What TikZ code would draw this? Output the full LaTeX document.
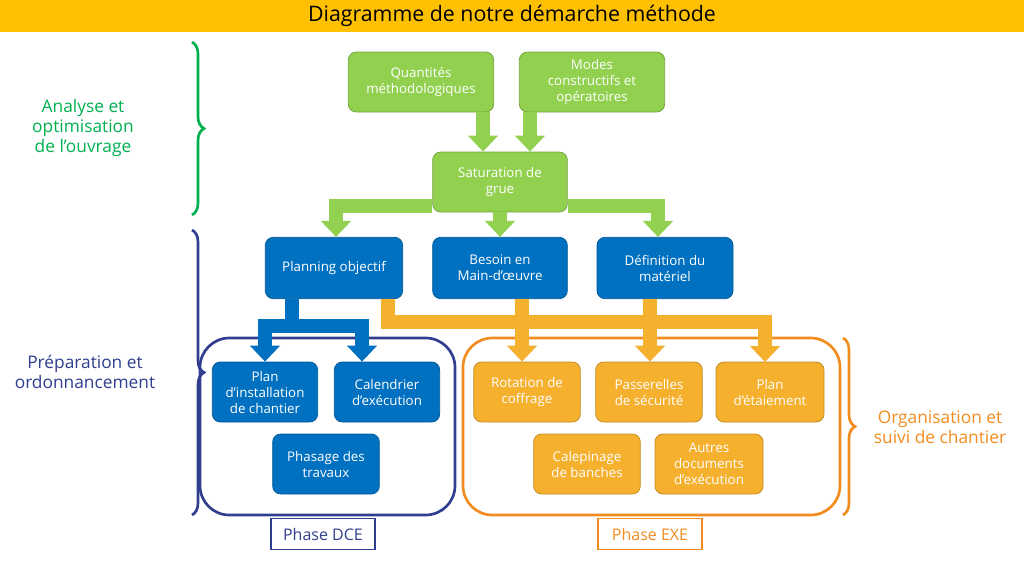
\documentclass[tikz,border=0pt]{standalone}
\usepackage{fontspec}
\setmainfont{Open Sans}
\usetikzlibrary{arrows.meta,decorations.pathreplacing}
\definecolor{vert}{HTML}{92D050}
\definecolor{vertf}{HTML}{00B050}
\definecolor{bleu}{HTML}{0070C0}
\definecolor{marine}{HTML}{2F3E8E}
\definecolor{jaune}{HTML}{F5B02E}
\definecolor{orange}{HTML}{F28C1E}
\definecolor{titre}{HTML}{FFC000}
\tikzset{
  boite/.style={rounded corners=6pt,draw=#1!80!black,fill=#1,text=white,
    align=center,font=\fontsize{10}{12}\selectfont,line width=0.6pt},
  fleche/.style={#1,line width=10pt,-{Triangle[width=22pt,length=12pt]}},
  cadre/.style={rounded corners=22pt,line width=2pt,draw=#1},
  acc/.style={decorate,decoration={brace,amplitude=9pt},line width=2pt,draw=#1}
}
\begin{document}
\begin{tikzpicture}[x=0.75pt,y=-0.75pt]
    \useasboundingbox (0,0) rectangle (1024,564);
    % ------ titre ---------------
    \fill[titre] (0,0) rectangle (1024,32);
    \node (titre) at (512,16) {\fontsize{16}{18}\selectfont Diagramme de notre démarche méthode};
    % ------ cadres ---------------
    \draw[cadre=marine] (200,338) rectangle (455,515);
    \draw[cadre=orange] (463,338) rectangle (840,515);
    \node[draw=marine,line width=0.8pt,text=marine,minimum width=78pt,minimum height=23pt,font=\fontsize{12}{14}\selectfont] (dce) at (323,534) {Phase DCE};
    \node[draw=orange,line width=0.8pt,text=orange,minimum width=78pt,minimum height=23pt,font=\fontsize{12}{14}\selectfont] (exe) at (650,534) {Phase EXE};
    % ------ accolades ---------------
    \draw[acc=vertf] (192,42) -- (192,215) ;
    \draw[acc=marine] (192,230) -- (192,515) ;
    \draw[acc=orange] (843,338) -- (843,515) ;
    \node[text=vertf,align=center,font=\fontsize{13}{15}\selectfont] (analyse) at (83,128) {Analyse et\\optimisation\\de l’ouvrage};
    \node[text=marine,align=center,font=\fontsize{13}{15}\selectfont] (prepa) at (85,372) {Préparation et\\ordonnancement};
    \node[text=orange,align=center,font=\fontsize{13}{15}\selectfont] (orga) at (940,427) {Organisation et\\suivi de chantier};
    % ------ boites ---------------
    \node[boite=vert,minimum width=109pt,minimum height=45pt] (quant) at (421,82) {Quantités\\méthodologiques};
    \node[boite=vert,minimum width=109pt,minimum height=45pt] (modes) at (592,82) {Modes\\constructifs et\\opératoires};
    \node[boite=vert,minimum width=101pt,minimum height=45pt] (sat) at (500,182) {Saturation de\\grue};
    \node[boite=bleu,minimum width=103pt,minimum height=46pt] (plan) at (334,268) {Planning objectif};
    \node[boite=bleu,minimum width=101pt,minimum height=46pt] (besoin) at (500,268) {Besoin en\\Main-d’œuvre};
    \node[boite=bleu,minimum width=102pt,minimum height=46pt] (def) at (665,268) {Définition du\\matériel};
    \node[boite=bleu,minimum width=79pt,minimum height=45pt] (instal) at (265,392) {Plan\\d’installation\\de chantier};
    \node[boite=bleu,minimum width=79pt,minimum height=45pt] (cal) at (387,392) {Calendrier\\d’exécution};
    \node[boite=bleu,minimum width=80pt,minimum height=45pt] (phas) at (326,464) {Phasage des\\travaux};
    \node[boite=jaune,minimum width=80pt,minimum height=45pt] (rot) at (527,392) {Rotation de\\coffrage};
    \node[boite=jaune,minimum width=80pt,minimum height=45pt] (pass) at (649,392) {Passerelles\\de sécurité};
    \node[boite=jaune,minimum width=81pt,minimum height=45pt] (etai) at (770,392) {Plan\\d’étaiement};
    \node[boite=jaune,minimum width=80pt,minimum height=45pt] (cale) at (587,464) {Calepinage\\de banches};
    \node[boite=jaune,minimum width=81pt,minimum height=45pt] (autres) at (709,464) {Autres\\documents\\d’exécution};
    % ------ fleches ---------------
    \draw[fleche=vert] (quant.south -| 483,0) -- (sat.north -| 483,0);
    \draw[fleche=vert] (modes.south -| 530,0) -- (sat.north -| 530,0);
    \draw[fleche=vert] (sat.west |- 0,206) -- (336,206) -- (plan.north -| 336,0);
    \draw[fleche=vert] (sat.south) -- (besoin.north);
    \draw[fleche=vert] (sat.east |- 0,206) -- (658,206) -- (def.north -| 658,0);
    \coordinate (bd) at (292,326);
    \draw[bleu,line width=10pt] (plan.south -| bd) -- (bd);
    \draw[fleche=bleu] (bd) -| (instal.north);
    \draw[fleche=bleu] (bd) -| (cal.north -| 362,0);
    \coordinate (od) at (388,322);
    \draw[fleche=jaune] (plan.south -| od) -- (od) -| (765,362);
    \draw[fleche=jaune] (besoin.south -| 522,0) -- (rot.north -| 522,0);
    \draw[fleche=jaune] (def.south -| 650,0) -- (pass.north -| 650,0);
\end{tikzpicture}
\end{document}
